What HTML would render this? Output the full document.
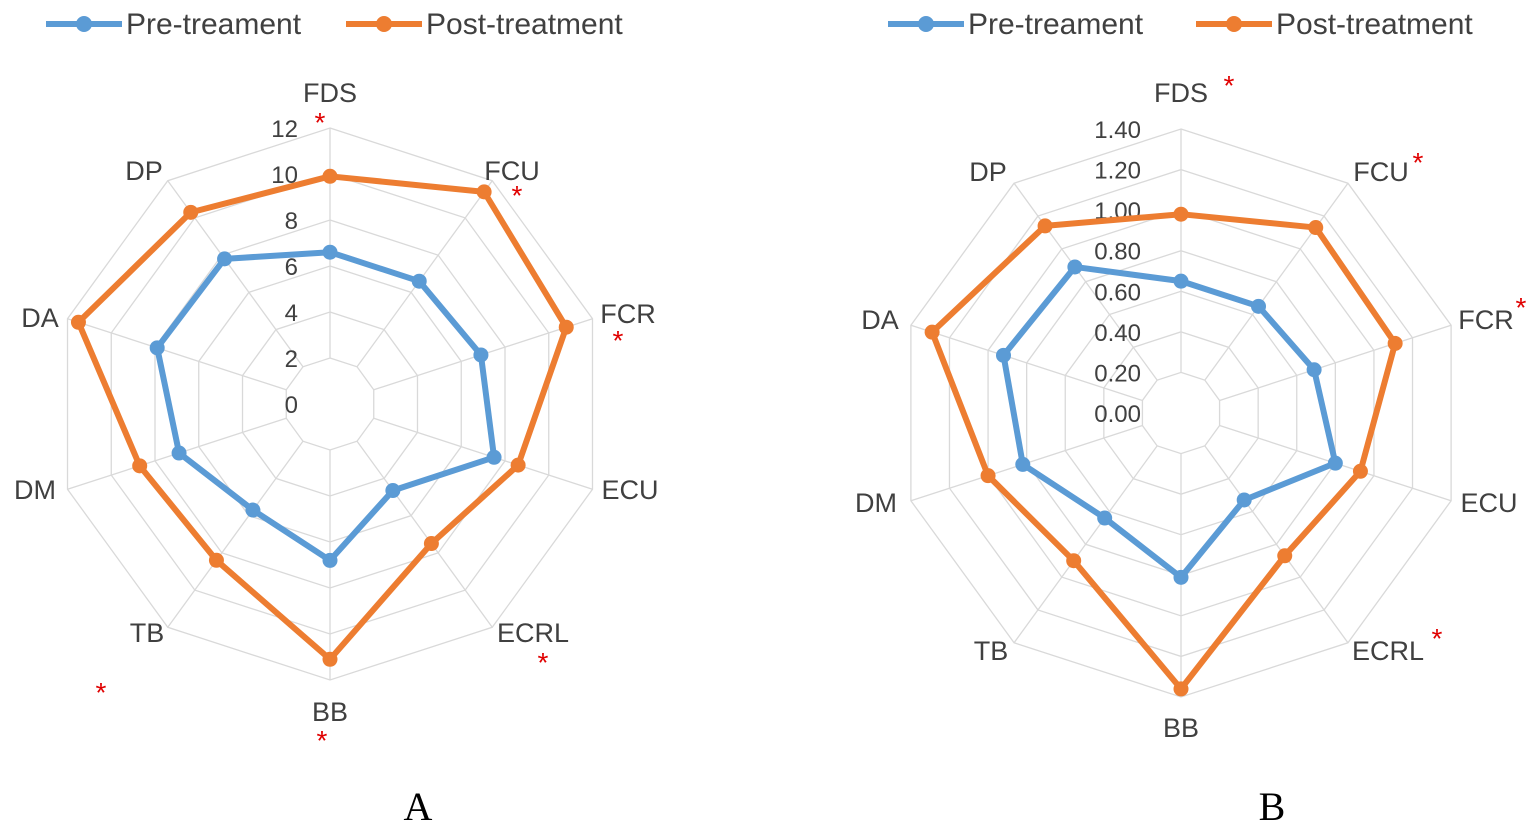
<!DOCTYPE html>
<html><head><meta charset="utf-8"><style>
body{margin:0;background:#fff;width:1535px;height:830px;overflow:hidden}
svg{font-family:"Liberation Sans",sans-serif}
</style></head><body>
<svg id="s" width="1535" height="830"></svg>
<script>
const categories=["FDS","FCU","FCR","ECU","ECRL","BB","TB","DM","DA","DP"];
const preA=[6.6,6.6,6.9,7.5,4.65,6.8,5.7,6.9,7.9,7.8];
const postA=[9.9,11.4,10.8,8.6,7.5,11.1,8.4,8.7,11.5,10.3];
const preB=[0.65,0.65,0.69,0.80,0.53,0.81,0.64,0.82,0.92,0.89];
const postB=[0.98,1.13,1.11,0.93,0.87,1.36,0.90,1.00,1.29,1.14];
const ticksA=["0","2","4","6","8","10","12"];
const ticksB=["0.00","0.20","0.40","0.60","0.80","1.00","1.20","1.40"];
const NS="http://www.w3.org/2000/svg",S=document.getElementById('s');
function el(t,a,p){const e=document.createElementNS(NS,t);for(const k in a)e.setAttribute(k,a[k]);(p||S).appendChild(e);return e;}
function chart(cfg){
 const g=el('g',{});
 
 
 const n=categories.length,step=cfg.step,max=step*(cfg.ticks.length-1);
 const sc=v=>v/max*cfg.R;
 const pt=(i,r)=>{const a=i*2*Math.PI/n;return [cfg.cx+r*Math.sin(a),cfg.cy-r*Math.cos(a)];};
 for(let k=1;k<cfg.ticks.length;k++){
  const r=sc(k*step);const pts=categories.map((c,i)=>pt(i,r).join(',')).join(' ');
  const ring=el('polygon',{points:pts,fill:'none',stroke:'#d9d9d9','stroke-width':1.3},g);
  
  
 }
 categories.forEach((c,i)=>{const [x1,y1]=pt(i,sc(step));const [x2,y2]=pt(i,cfg.R);
  const sp=el('line',{x1,y1,x2,y2,stroke:'#d9d9d9','stroke-width':1.3},g);
  
  
  const [lx,ly]=cfg.labels[i];
  const t=el('text',{x:lx,y:ly+9,'text-anchor':'middle','font-size':27,fill:'#404040'},g);t.textContent=c;
  
  
 });
 cfg.ticks.forEach((tk,k)=>{const t=el('text',{x:cfg.cx+cfg.tx,y:cfg.cy-sc(k*step)+9,'text-anchor':'end','font-size':24,fill:'#404040'},g);t.textContent=tk;
  
  });
 [[cfg.post,'#ed7d31','post-treatment-series'],[cfg.pre,'#5b9bd5','pre-treatment-series']].forEach(([d,col,nm])=>{
  const pts=d.map((v,i)=>pt(i,sc(v)));
  const pl=el('polygon',{points:pts.map(p=>p.join(',')).join(' '),fill:'none',stroke:col,'stroke-width':6,'stroke-linejoin':'round'},g);
  
  
  pts.forEach(p=>{const c=el('circle',{cx:p[0],cy:p[1],r:7.5,fill:col},g);
   
   });
 });
 cfg.stars.forEach(([x,y])=>{const t=el('text',{x,y,'text-anchor':'middle','font-size':28,fill:'#e00000'},g);t.textContent='*';
  
  });
 const L=el('g',{},g);
 
 
 [[cfg.lx,'#5b9bd5','Pre-treament'],[cfg.lx2,'#ed7d31','Post-treatment']].forEach(([x,col,txt])=>{
  const ln=el('line',{x1:x,y1:24,x2:x+76,y2:24,stroke:col,'stroke-width':6},L);
  
  
  const c=el('circle',{cx:x+38,cy:24,r:8,fill:col},L);
  
  
  const t=el('text',{x:x+80,y:34,'font-size':30,fill:'#404040'},L);t.textContent=txt;
  
  
 });
 const T=el('text',{x:cfg.cx+(cfg.tlx||0),y:820,'text-anchor':'middle','font-size':40,fill:'#000','font-family':'Liberation Serif, serif'},g);T.textContent=cfg.title;
 
 
}
chart({name:'radar-chart-a',cx:330,cy:404,R:276,step:2,ticks:ticksA,pre:preA,post:postA,tx:-32,
 labels:[[330,93],[512,171],[628,314],[630,490],[533,633],[330,712],[147,633],[35,490],[40,318],[144,171]],
 stars:[[320,132],[517,205],[618,350],[543,672],[101,702],[322,750]],lx:46,lx2:346,title:'A',tlx:88});
chart({name:'radar-chart-b',cx:1181,cy:413,R:284,step:0.2,ticks:ticksB,pre:preB,post:postB,tx:-40,
 labels:[[1181,93],[1381,172],[1486,320],[1489,503],[1388,651],[1181,728],[991,651],[876,503],[880,320],[988,172]],
 stars:[[1229,95],[1418,172],[1521,317],[1437,648]],lx:888,lx2:1196,title:'B',tlx:91});
</script>
</body></html>
